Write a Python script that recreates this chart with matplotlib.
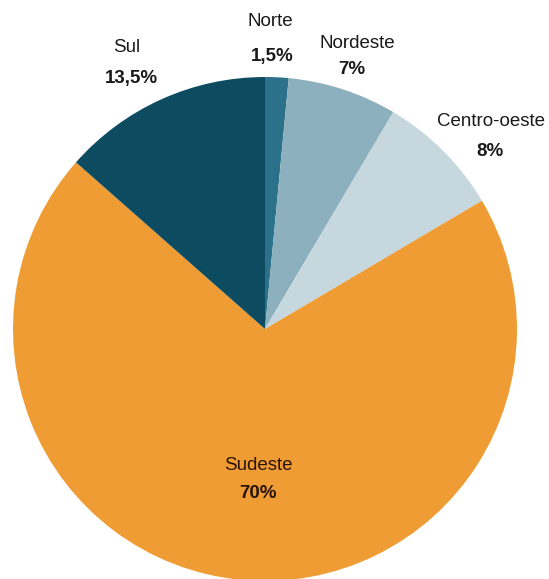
import matplotlib
matplotlib.use("Agg")
import matplotlib.pyplot as plt
from matplotlib import font_manager

regions = ["Norte", "Nordeste", "Centro-oeste", "Sudeste", "Sul"]
shares = [1.5, 7, 8, 70, 13.5]
share_labels = ["1,5%", "7%", "8%", "70%", "13,5%"]
colors = ["#2a7189", "#8cb0bd", "#c6d8de", "#ef9c34", "#0d4c60"]

names = {f.name for f in font_manager.fontManager.ttflist}
fam = ["Liberation Sans Narrow", "DejaVu Sans"] if "Liberation Sans Narrow" in names else ["Liberation Sans", "DejaVu Sans"]

W, H = 549, 579
fig = plt.figure(figsize=(W / 100, H / 100), dpi=100)
ax = fig.add_axes([0, 0, 1, 1])
cx, cy, r = 265, 329, 252
ax.pie(shares, colors=colors, startangle=90, counterclock=False,
       center=(cx, H - cy), radius=r, wedgeprops=dict(linewidth=0))
ax.set_xlim(0, W)
ax.set_ylim(0, H)
ax.set_aspect("equal")
ax.axis("off")

# label positions (pixels from top-left)
name_pos = [(270, 22), (357, 43), (491, 121), (258, 466), (127, 47)]
val_pos = [(272, 56), (352, 70), (490, 151), (258, 494), (131, 78)]
txtcol = ["#1a1a1a", "#1a1a1a", "#1a1a1a", "#2a1505", "#1a1a1a"]
for n, v, (nx, ny), (vx, vy), c in zip(regions, share_labels, name_pos, val_pos, txtcol):
    ax.text(nx, H - ny, n, ha="center", va="center", fontsize=13.5, family=fam, color=c)
    ax.text(vx, H - vy, v, ha="center", va="center", fontsize=13.5, family=fam,
            fontweight="bold", color=c)

fig.savefig("out.png", dpi=100)
